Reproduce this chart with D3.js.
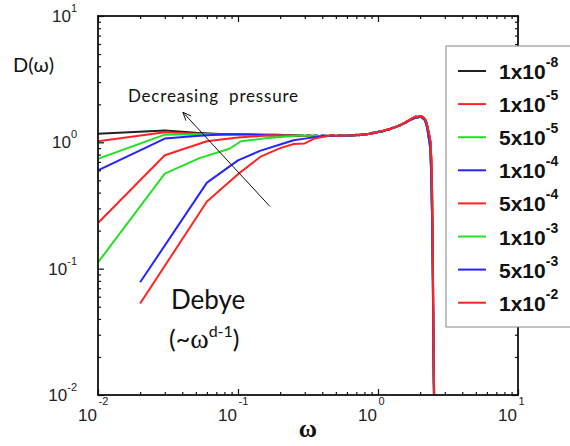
<!DOCTYPE html>
<html><head><meta charset="utf-8">
<script src="https://cdn.jsdelivr.net/npm/d3@7"></script>
<style>body{margin:0;background:#fff}svg{display:block}</style>
</head><body>
<svg id="c" width="570" height="446"></svg>
<script>
// ---- data ----
const pressureMantissa = ["1","1","5","1","5","1","5","1"];
const pressureExponent = ["-8","-5","-5","-4","-4","-3","-3","-2"];
const seriesColors = ["#222222","#ff2424","#24e024","#2424ff","#ff2424","#24e024","#2424ff","#ff2424"];
const seriesTail = [0,0,1,1,0,1,1,0]; // which high-frequency trace each series follows
// low-frequency part of each series (omega, D)
const lowW = [
  [0.01,0.03,0.05,0.08,0.12,0.18,0.25],
  [0.01,0.03,0.05,0.08,0.12,0.18,0.25],
  [0.01,0.03,0.05,0.08,0.12,0.18,0.25],
  [0.01,0.03,0.05,0.08,0.12,0.18,0.25],
  [0.01,0.03,0.06,0.10,0.17,0.25],
  [0.01,0.03,0.053,0.087,0.105,0.15,0.20,0.25],
  [0.02,0.06,0.10,0.145,0.20,0.25,0.30,0.38],
  [0.02,0.06,0.10,0.145,0.20,0.25,0.30,0.35,0.42]
];
const lowD = [
  [1.17,1.24,1.19,1.16,1.15,1.15,1.14],
  [1.02,1.20,1.17,1.15,1.14,1.15,1.14],
  [0.74,1.15,1.16,1.15,1.14,1.13,1.13],
  [0.60,1.07,1.12,1.16,1.16,1.14,1.13],
  [0.23,0.79,1.02,1.09,1.14,1.13],
  [0.112,0.565,0.75,0.89,1.02,1.07,1.10,1.12],
  [0.078,0.48,0.72,0.86,0.96,1.04,1.07,1.11],
  [0.053,0.34,0.56,0.77,0.90,0.97,0.98,1.07,1.11]
];
// high-frequency part (plateau, peak, cutoff), two slightly different traces
const tailW = [0.28,0.30,0.32,0.34,0.36,0.38,0.40,0.42,0.44,0.47,0.50,0.53,0.56,0.59,0.62,0.66,0.70,0.74,0.78,0.82,0.87,0.92,0.97,1.02,1.08,1.14,1.20,1.26,1.32,1.38,1.44,1.50,1.56,1.62,1.68,1.74,1.80,1.86,1.92,1.98,2.04,2.10,2.16,2.21,2.26,2.30,2.34,2.37,2.40,2.43,2.46,2.48,2.50,2.52];
const tailD = [1.13,1.12,1.135,1.12,1.13,1.115,1.13,1.12,1.125,1.14,1.12,1.13,1.135,1.125,1.14,1.13,1.15,1.14,1.16,1.155,1.17,1.18,1.20,1.21,1.23,1.25,1.27,1.29,1.32,1.34,1.37,1.40,1.43,1.47,1.50,1.54,1.57,1.60,1.58,1.61,1.60,1.58,1.53,1.45,1.32,1.20,1.10,1.00,0.75,0.45,0.15,0.05,0.02,0.009];
const tailDalt = [1.14,1.125,1.13,1.125,1.135,1.12,1.125,1.13,1.12,1.13,1.125,1.135,1.13,1.13,1.135,1.14,1.14,1.15,1.15,1.16,1.17,1.19,1.19,1.22,1.22,1.25,1.26,1.30,1.31,1.35,1.36,1.40,1.42,1.46,1.49,1.52,1.55,1.57,1.57,1.59,1.58,1.55,1.50,1.40,1.25,1.10,0.98,0.85,0.55,0.28,0.10,0.035,0.013,0.008];
const xDecades = [0.01,0.1,1,10];
const xDecadeExp = ["-2","-1","0","1"];
const yDecades = [0.01,0.1,1,10];
const yDecadeExp = ["-2","-1","0","1"];

// ---- layout ----
const svg = d3.select("#c");
const L=98, R=518, T=16, B=395;
const x = d3.scaleLog().domain([0.01,10]).range([L,R]);
const y = d3.scaleLog().domain([0.01,10]).range([B,T]);

const minorTicks = [];
for (let e=-2;e<1;e++) for (let m=2;m<=9;m++) minorTicks.push(m*Math.pow(10,e));

svg.append("defs").append("clipPath").attr("id","clip")
  .append("rect").attr("x",L).attr("y",T).attr("width",R-L).attr("height",B-T);

// curves
const tails = [tailD, tailDalt];
const line = d3.line().x(d=>x(d[0])).y(d=>y(d[1]));
const gCurves = svg.append("g").attr("clip-path","url(#clip)");
lowW.forEach((ws,i)=>{
  const pts = ws.map((w,j)=>[w,lowD[i][j]]);
  const last = ws[ws.length-1];
  const td = tails[seriesTail[i]];
  tailW.forEach((w,j)=>{ if (w>last+0.005) pts.push([w,td[j]]); });
  gCurves.append("path").attr("d",line(pts)).attr("fill","none")
    .attr("stroke",seriesColors[i]).attr("stroke-width",2).attr("stroke-linejoin","round");
});

// axes (ticks inward on all sides)
function axisPair(gen, scale, tr, sMajor, sMinor){
  svg.append("g").attr("transform",tr)
    .call(gen(scale).tickValues(xDecades).tickSize(sMajor).tickFormat(""))
    .call(g=>g.select(".domain").remove());
  svg.append("g").attr("transform",tr)
    .call(gen(scale).tickValues(minorTicks).tickSize(sMinor).tickFormat(""))
    .call(g=>g.select(".domain").remove());
}
axisPair(d3.axisBottom, x, `translate(0,${B})`, -6, -3);
axisPair(d3.axisTop, x, `translate(0,${T})`, -6, -3);
axisPair(d3.axisLeft, y, `translate(${L},0)`, -6, -3);
axisPair(d3.axisRight, y, `translate(${R},0)`, -6, -3);
svg.selectAll(".tick line").attr("stroke","#111").attr("stroke-width",1.2);
svg.append("rect").attr("x",L).attr("y",T).attr("width",R-L).attr("height",B-T)
  .attr("fill","none").attr("stroke","#111").attr("stroke-width",1.8);

// tick labels
const tf = "Liberation Sans, Arial, sans-serif";
xDecades.forEach((v,i)=>{
  svg.append("text").attr("x",x(v)-1).attr("y",B+26).attr("text-anchor","end")
    .attr("font-family",tf).attr("font-size",17).attr("fill","#222").text("10");
  svg.append("text").attr("x",x(v)+0.5).attr("y",B+10).attr("text-anchor","start")
    .attr("font-family",tf).attr("font-size",11).attr("fill","#222").text(xDecadeExp[i]);
});
yDecades.forEach((v,i)=>{
  const t = svg.append("text").attr("x",L-21).attr("y",y(v)+6).attr("text-anchor","end")
    .attr("font-family",tf).attr("font-size",17).attr("fill","#222");
  t.append("tspan").text("10");
  t.append("tspan").attr("font-size",11).attr("dy",-10).text(yDecadeExp[i]);
});

// axis titles
const cf = "Lato, 'Open Sans', sans-serif";
svg.append("text").attr("x",13).attr("y",72).attr("font-family",cf).attr("font-size",20)
  .attr("fill","#111").text("D(ω)");
svg.append("text").attr("x",308).attr("y",437).attr("text-anchor","middle")
  .attr("font-family","Liberation Serif, serif").attr("font-weight","bold").attr("font-size",25)
  .attr("fill","#111").text("ω");

// annotation: decreasing pressure arrow
const a0=[x(0.169),y(0.311)], a1=[x(0.0404),y(1.73)];
svg.append("line").attr("x1",a0[0]).attr("y1",a0[1]).attr("x2",a1[0]).attr("y2",a1[1])
  .attr("stroke","#111").attr("stroke-width",1);
const ang = Math.atan2(a0[1]-a1[1], a0[0]-a1[0]);
[0.4,-0.4].forEach(da=>{
  svg.append("line").attr("x1",a1[0]).attr("y1",a1[1])
    .attr("x2",a1[0]+9*Math.cos(ang+da)).attr("y2",a1[1]+9*Math.sin(ang+da))
    .attr("stroke","#111").attr("stroke-width",1);
});
svg.append("text").attr("x",128).attr("y",102).attr("font-family",cf).attr("font-size",17)
  .attr("textLength",170).attr("lengthAdjust","spacing")
  .attr("fill","#111").attr("xml:space","preserve").style("white-space","pre").text("Decreasing  pressure");

// Debye annotation
svg.append("text").attr("x",171).attr("y",309).attr("font-family",cf).attr("font-size",26)
  .attr("fill","#111").text("Debye");
const db = svg.append("text").attr("x",169).attr("y",348).attr("font-family",cf).attr("font-size",25).attr("fill","#111");
db.append("tspan").text("(~");
db.append("tspan").attr("font-family","Liberation Serif, serif").attr("font-size",28).text("ω");
db.append("tspan").attr("font-size",16).attr("dy",-11).text("d-1");
db.append("tspan").attr("dy",11).text(")");

// legend
const lg = svg.append("g");
lg.append("rect").attr("x",446).attr("y",46).attr("width",140).attr("height",281)
  .attr("fill","#fff").attr("stroke","#888").attr("stroke-width",1);
pressureMantissa.forEach((m,i)=>{
  const ry = 71 + i*33.1;
  lg.append("line").attr("x1",458).attr("x2",486).attr("y1",ry).attr("y2",ry)
    .attr("stroke",seriesColors[i]).attr("stroke-width",2);
  const t = lg.append("text").attr("x",499).attr("y",ry+8).attr("font-family",tf)
    .attr("font-weight","bold").attr("font-size",21).attr("fill","#111");
  t.append("tspan").text(m+"x10");
  t.append("tspan").attr("font-size",14).attr("dy",-12).text(pressureExponent[i]);
});
</script>
</body></html>
